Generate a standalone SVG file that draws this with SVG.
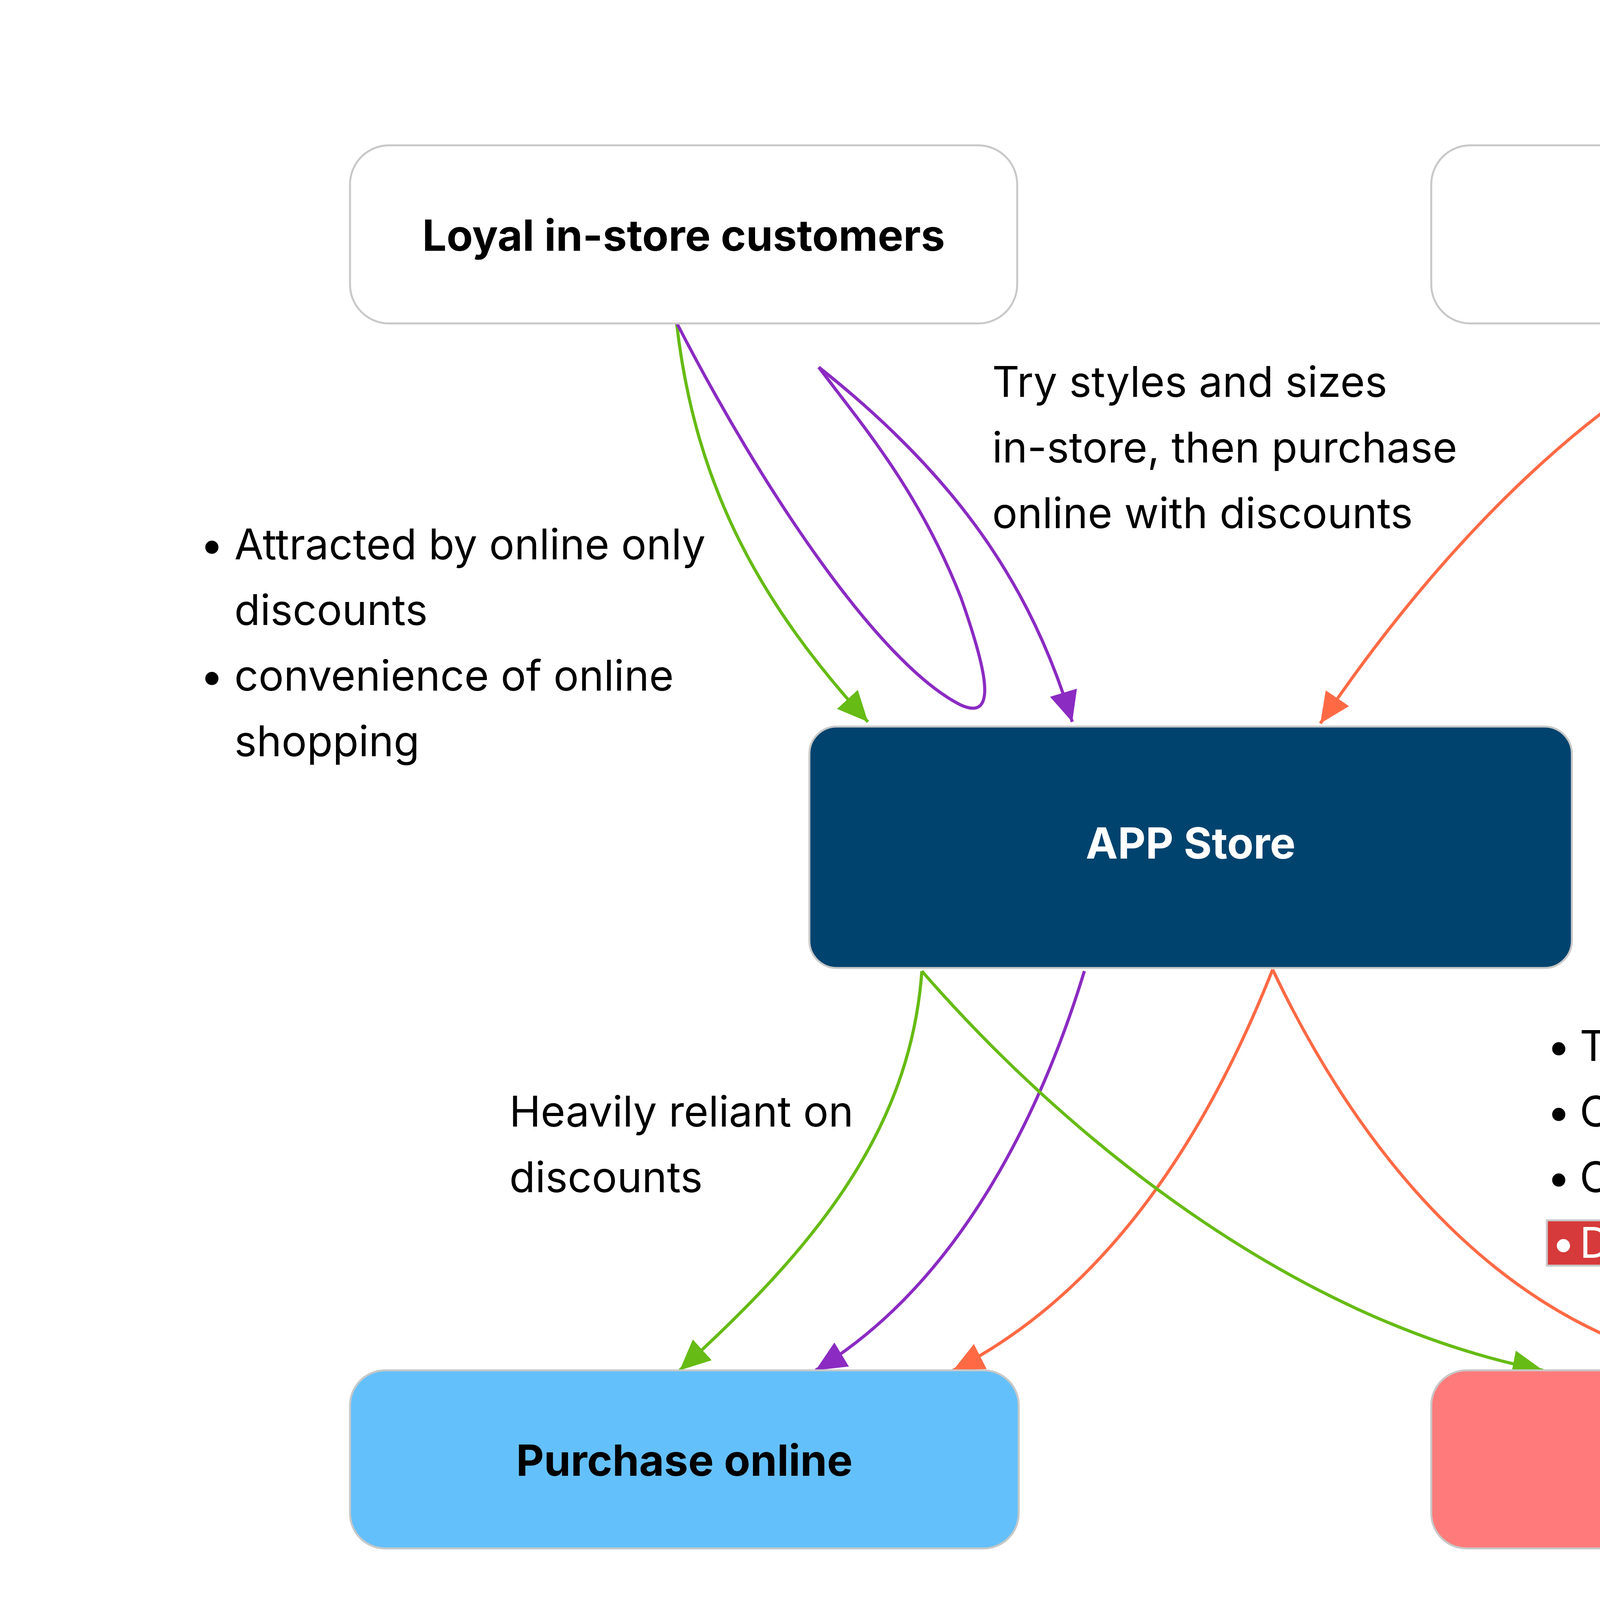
<svg xmlns="http://www.w3.org/2000/svg" width="6219" height="4305" viewBox="0 0 6219 4305">
<style>
.node{stroke:#C8C8C8;stroke-width:5}
.lbl{font-family:Inter,"Noto Sans",sans-serif;font-weight:700;font-size:110px;text-anchor:middle}
.txt{font-family:Inter,"Noto Sans",sans-serif;font-weight:400;font-size:108px;fill:#000}
.edge{fill:none;stroke-width:8}
.g{stroke:#66BB14}
.p{stroke:#8B2BC2}
.o{stroke:#FF6A45}
</style>
<defs>
<marker id="ag" markerUnits="userSpaceOnUse" markerWidth="84" markerHeight="74" refX="78" refY="36" orient="auto"><path d="M0,0 L78,36 L0,72 Z" fill="#66BB14"/></marker>
<marker id="ap" markerUnits="userSpaceOnUse" markerWidth="84" markerHeight="74" refX="78" refY="36" orient="auto"><path d="M0,0 L78,36 L0,72 Z" fill="#8B2BC2"/></marker>
<marker id="ao" markerUnits="userSpaceOnUse" markerWidth="84" markerHeight="74" refX="78" refY="36" orient="auto"><path d="M0,0 L78,36 L0,72 Z" fill="#FF6A45"/></marker>
</defs>
<rect width="6219" height="4305" fill="#FFFFFF"/>
<g id="connectors">
<path class="edge g" d="M1732,826 C1780,1250 1950,1550 2222,1848" marker-end="url(#ag)"/>
<path class="edge p" d="M1732,826 C1950,1250 2250,1700 2460,1805 C2560,1850 2520,1700 2460,1530 C2350,1250 2200,1080 2096,940"/>
<path class="edge p" d="M2096,940 C2450,1220 2640,1500 2745,1848" marker-end="url(#ap)"/>
<path class="edge o" d="M4512,816 C4100,980 3700,1380 3380,1852" marker-end="url(#ao)"/>
<path class="edge g" d="M2360,2486 C2330,2900 2080,3200 1740,3508" marker-end="url(#ag)"/>
<path class="edge p" d="M2776,2486 C2680,2800 2480,3270 2088,3508" marker-end="url(#ap)"/>
<path class="edge o" d="M3258,2482 C3100,2880 2850,3300 2440,3508" marker-end="url(#ao)"/>
<path class="edge g" d="M2360,2486 C2720,2900 3300,3380 3950,3508" marker-end="url(#ag)"/>
<path class="edge o" d="M3258,2482 C3480,2950 3850,3420 4412,3508" marker-end="url(#ao)"/>
</g>
<g id="loyal">
<rect class="node" x="896" y="372" width="1708" height="456" rx="100" fill="#FFFFFF"/>
<text class="lbl" x="1750" y="642" fill="#000">Loyal in-store customers</text>
</g>
<g id="new">
<rect class="node" x="3664" y="372" width="1708" height="456" rx="100" fill="#FFFFFF"/>
<text class="lbl" x="4518" y="642" fill="#000">New customers</text>
</g>
<g id="app">
<rect class="node" x="2072" y="1860" width="1952" height="618" rx="70" fill="#00436E"/>
<text class="lbl" x="3048" y="2198" fill="#FFFFFF">APP Store</text>
</g>
<g id="purchase">
<rect class="node" x="896" y="3508" width="1712" height="456" rx="90" fill="#64C0FA"/>
<text class="lbl" x="1752" y="3778" fill="#000">Purchase online</text>
</g>
<g id="dropoff">
<rect class="node" x="3664" y="3508" width="1708" height="456" rx="90" fill="#FF7B7B"/>
<text class="lbl" x="4518" y="3778" fill="#000">Drop-off</text>
</g>
<g id="labels">
<text class="txt" x="2540" y="1016">Try styles and sizes</text>
<text class="txt" x="2540" y="1184">in-store, then purchase</text>
<text class="txt" x="2540" y="1352">online with discounts</text>
<text class="txt" x="512" y="1432">•</text><text class="txt" x="600" y="1432">Attracted by online only</text>
<text class="txt" x="600" y="1600">discounts</text>
<text class="txt" x="512" y="1768">•</text><text class="txt" x="600" y="1768">convenience of online</text>
<text class="txt" x="600" y="1936">shopping</text>
<text class="txt" x="1304" y="2884">Heavily reliant on</text>
<text class="txt" x="1304" y="3052">discounts</text>
<text class="txt" x="3960" y="2716">•</text><text class="txt" x="4044" y="2716">Traffic Quality</text>
<text class="txt" x="3960" y="2884">•</text><text class="txt" x="4044" y="2884">Category-related uncertainty</text>
<text class="txt" x="3960" y="3052">•</text><text class="txt" x="4044" y="3052">Omnichannel shopping behavior</text>
<rect x="3960" y="3124" width="980" height="116" fill="#D63A3A" stroke="#C8C8C8" stroke-width="5"/>
<text class="txt" x="3972" y="3220" style="fill:#FFFFFF">•</text><text class="txt" x="4044" y="3220" style="fill:#FFFFFF">Decision friction</text>
<text class="lbl" x="1736" y="4206" fill="#000">&lt;4%</text>
<text class="lbl" x="4522" y="4194" fill="#000">&gt;96%</text>
</g>
</svg>
